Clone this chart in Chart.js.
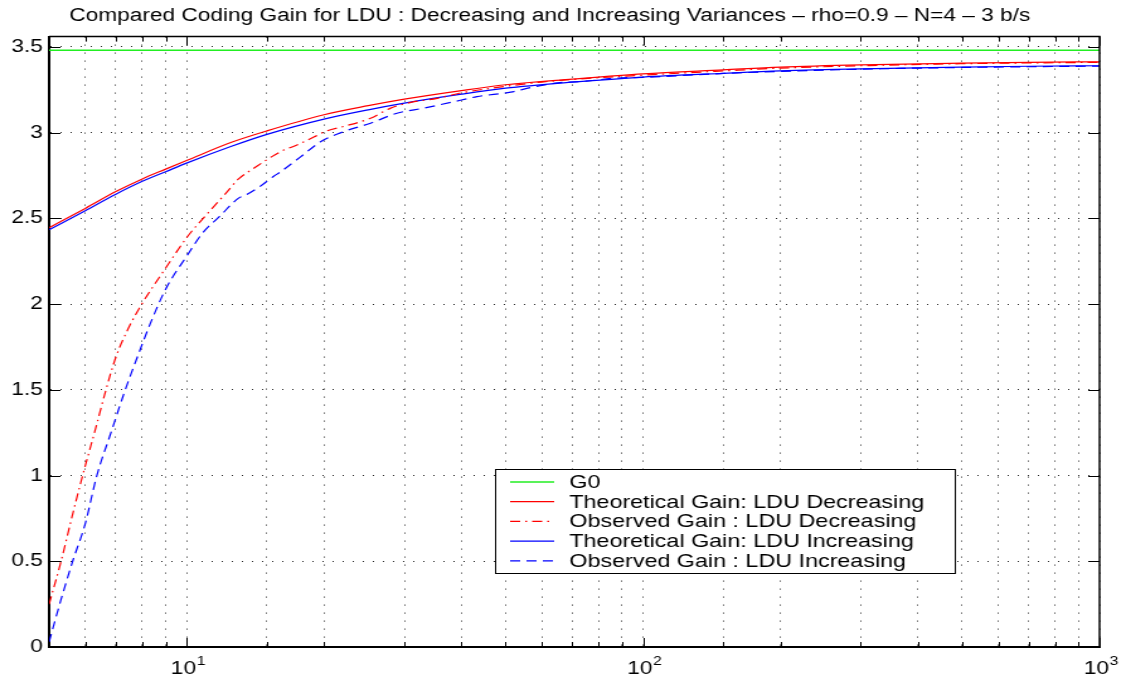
<!DOCTYPE html>
<html>
<head>
<meta charset="utf-8">
<script src="https://cdn.jsdelivr.net/npm/chart.js@4"></script>
<style>
  html, body { margin: 0; padding: 0; background: #fff; overflow: hidden; }
  /* the reference is a Matlab figure stretched sideways, so draw narrow and stretch */
  #wrap { width: 894px; height: 682px; transform: scaleX(1.2595); transform-origin: 0 0; }
</style>
</head>
<body>
<div id="wrap"><canvas id="gain"></canvas></div>
<script>
// --- Data ---
const titleText = "Compared Coding Gain for LDU : Decreasing and Increasing Variances \u2013 rho=0.9 \u2013 N=4 \u2013 3 b/s";

const g0X = [5, 1000];
const g0 = [3.48, 3.48];

const theoX = [5, 6, 7, 8, 9, 10, 12.5, 15, 20, 25, 30, 40, 50, 70, 100, 150, 200, 300, 500, 700, 1000];
const theoDec = [2.445, 2.558, 2.656, 2.73, 2.787, 2.837, 2.942, 3.01, 3.104, 3.157, 3.195, 3.245, 3.279, 3.312, 3.343, 3.366, 3.382, 3.395, 3.405, 3.41, 3.413];
const theoInc = [2.433, 2.545, 2.641, 2.716, 2.772, 2.822, 2.919, 2.99, 3.079, 3.133, 3.172, 3.224, 3.259, 3.294, 3.324, 3.346, 3.36, 3.372, 3.382, 3.387, 3.39];

const obsDecX = [5, 5.31, 5.6, 5.92, 6.3, 6.66, 7, 7.43, 8, 9, 10.05, 11, 12.2, 13, 14, 16.1, 17.5, 19, 20.3, 22.1, 25.3, 28, 31, 35.4, 40, 50, 60, 70, 100, 150, 200, 300, 500, 1000];
const obsDec = [0.25, 0.5, 0.75, 1.0, 1.26, 1.5, 1.69, 1.85, 2.005, 2.21, 2.394, 2.515, 2.647, 2.73, 2.79, 2.89, 2.929, 2.974, 3.01, 3.036, 3.084, 3.143, 3.176, 3.2, 3.232, 3.27, 3.295, 3.31, 3.335, 3.36, 3.376, 3.39, 3.402, 3.41];

const obsIncX = [5, 5.3, 5.63, 6, 6.36, 6.83, 7.34, 7.8, 8.31, 9, 10.05, 10.84, 11.8, 13, 13.5, 14.3, 15.5, 16.1, 17.8, 19.7, 22.1, 25.3, 28.9, 33.1, 37.9, 43.3, 51.3, 57, 65, 75, 87, 100, 150, 200, 300, 500, 1000];
const obsInc = [0.03, 0.27, 0.5, 0.72, 1.0, 1.25, 1.5, 1.69, 1.88, 2.087, 2.287, 2.414, 2.51, 2.618, 2.637, 2.676, 2.744, 2.773, 2.86, 2.948, 3.006, 3.055, 3.113, 3.143, 3.176, 3.21, 3.236, 3.264, 3.29, 3.3, 3.318, 3.322, 3.345, 3.357, 3.37, 3.38, 3.388];

const labels = [
  "G0",
  "Theoretical Gain: LDU Decreasing",
  "Observed Gain : LDU Decreasing",
  "Theoretical Gain: LDU Increasing",
  "Observed Gain : LDU Increasing"
];

const yMin = 0, yMax = 3.56, yStep = 0.5;
const xMin = 5, xMax = 1000;

const FONT = "'Liberation Sans', Arial, Helvetica, sans-serif";

function pts(xs, ys) {
  return xs.map((x, i) => ({ x: x, y: ys[i] }));
}
function isDecade(v) {
  const e = Math.log10(v);
  return Math.abs(e - Math.round(e)) < 1e-6;
}

// --- Box, inner ticks, 10^n labels and legend (Matlab style) ---
const matlabFrame = {
  id: "matlabFrame",
  afterDraw(chart) {
    const { ctx, chartArea: a, scales } = chart;
    const x = scales.x, y = scales.y;
    ctx.save();
    ctx.strokeStyle = "#000";
    ctx.lineWidth = 1;
    ctx.beginPath();
    y.ticks.forEach(t => {
      const py = Math.round(y.getPixelForValue(t.value)) + 0.5;
      ctx.moveTo(a.left, py); ctx.lineTo(a.left + 9, py);
      ctx.moveTo(a.right, py); ctx.lineTo(a.right - 9, py);
    });
    x.ticks.forEach(t => {
      const px = Math.round(x.getPixelForValue(t.value)) + 0.5;
      const len = isDecade(t.value) ? 9 : 5;
      ctx.moveTo(px, a.bottom); ctx.lineTo(px, a.bottom - len);
      ctx.moveTo(px, a.top); ctx.lineTo(px, a.top + len);
    });
    ctx.stroke();

    ctx.lineWidth = 1.5;
    ctx.beginPath();
    ctx.moveTo(a.left, a.top);
    ctx.lineTo(a.right, a.top);
    ctx.lineTo(a.right, a.bottom);
    ctx.stroke();

    // decade labels with a raised exponent
    ctx.fillStyle = "#000";
    ctx.textBaseline = "alphabetic";
    ctx.textAlign = "left";
    x.ticks.filter(t => isDecade(t.value)).forEach(t => {
      const px = x.getPixelForValue(t.value);
      const exp = String(Math.round(Math.log10(t.value)));
      ctx.font = "18px " + FONT;
      const wb = ctx.measureText("10").width;
      ctx.font = "12.5px " + FONT;
      const we = ctx.measureText(exp).width;
      const x0 = px - (wb + we) / 2 + 1;
      ctx.font = "18px " + FONT;
      ctx.fillText("10", x0, a.bottom + 27);
      ctx.font = "12.5px " + FONT;
      ctx.fillText(exp, x0 + wb + 0.5, a.bottom + 18);
    });

    // legend box
    const lx = 393, ly = 469, lw = 365, lh = 104;
    ctx.fillStyle = "#fff";
    ctx.fillRect(lx, ly, lw, lh);
    ctx.lineWidth = 1;
    ctx.strokeRect(lx + 0.5, ly + 0.5, lw, lh);
    ctx.font = "18.5px " + FONT;
    ctx.textBaseline = "middle";
    chart.data.datasets.forEach((ds, i) => {
      const ry = ly + 13 + i * 19.7;
      ctx.strokeStyle = ds.borderColor;
      ctx.lineWidth = ds.borderWidth;
      ctx.setLineDash(ds.borderDash || []);
      ctx.beginPath();
      ctx.moveTo(lx + 12, ry);
      ctx.lineTo(lx + 47, ry);
      ctx.stroke();
      ctx.setLineDash([]);
      ctx.fillStyle = "#000";
      ctx.fillText(ds.label, lx + 59, ry + 1);
    });
    ctx.restore();
  }
};

new Chart(document.getElementById("gain"), {
  type: "line",
  data: {
    datasets: [
      { label: labels[0], data: pts(g0X, g0), borderColor: "#22ee22", borderWidth: 1.5 },
      { label: labels[1], data: pts(theoX, theoDec), borderColor: "#ff0000", borderWidth: 1.2, cubicInterpolationMode: "monotone" },
      { label: labels[2], data: pts(obsDecX, obsDec), borderColor: "#ff0000", borderWidth: 1.2, borderDash: [8, 4, 1.5, 4], cubicInterpolationMode: "monotone" },
      { label: labels[3], data: pts(theoX, theoInc), borderColor: "#0000ff", borderWidth: 1.2, cubicInterpolationMode: "monotone" },
      { label: labels[4], data: pts(obsIncX, obsInc), borderColor: "#0000ff", borderWidth: 1.2, borderDash: [8, 5], cubicInterpolationMode: "monotone" }
    ]
  },
  options: {
    responsive: true,
    maintainAspectRatio: false,
    animation: false,
    layout: { padding: { left: 0, right: 21, top: 0, bottom: 0 } },
    elements: { point: { radius: 0 }, line: { fill: false } },
    plugins: {
      legend: { display: false },
      tooltip: { enabled: false },
      title: {
        display: true,
        text: titleText,
        color: "#000",
        font: { family: FONT, size: 18, weight: "normal" },
        padding: { top: 5, bottom: 10 }
      }
    },
    scales: {
      x: {
        type: "logarithmic",
        min: xMin,
        max: xMax,
        grid: { color: "rgba(0,0,0,0.85)", lineWidth: 1, drawTicks: false },
        border: { display: true, color: "#000", width: 2, dash: [1, 7] },
        ticks: { display: false, autoSkip: false },
        afterFit: s => { s.height = 35; }
      },
      y: {
        min: yMin,
        max: yMax,
        grid: { color: "rgba(0,0,0,0.85)", lineWidth: 1, drawTicks: false },
        border: { display: true, color: "#000", width: 2, dash: [1, 7] },
        ticks: {
          stepSize: yStep,
          includeBounds: false,
          padding: 5,
          color: "#000",
          font: { family: FONT, size: 18 },
          callback: v => String(+v.toFixed(2))
        },
        afterFit: s => { s.width = 39; }
      }
    }
  },
  plugins: [matlabFrame]
});
</script>
</body>
</html>
